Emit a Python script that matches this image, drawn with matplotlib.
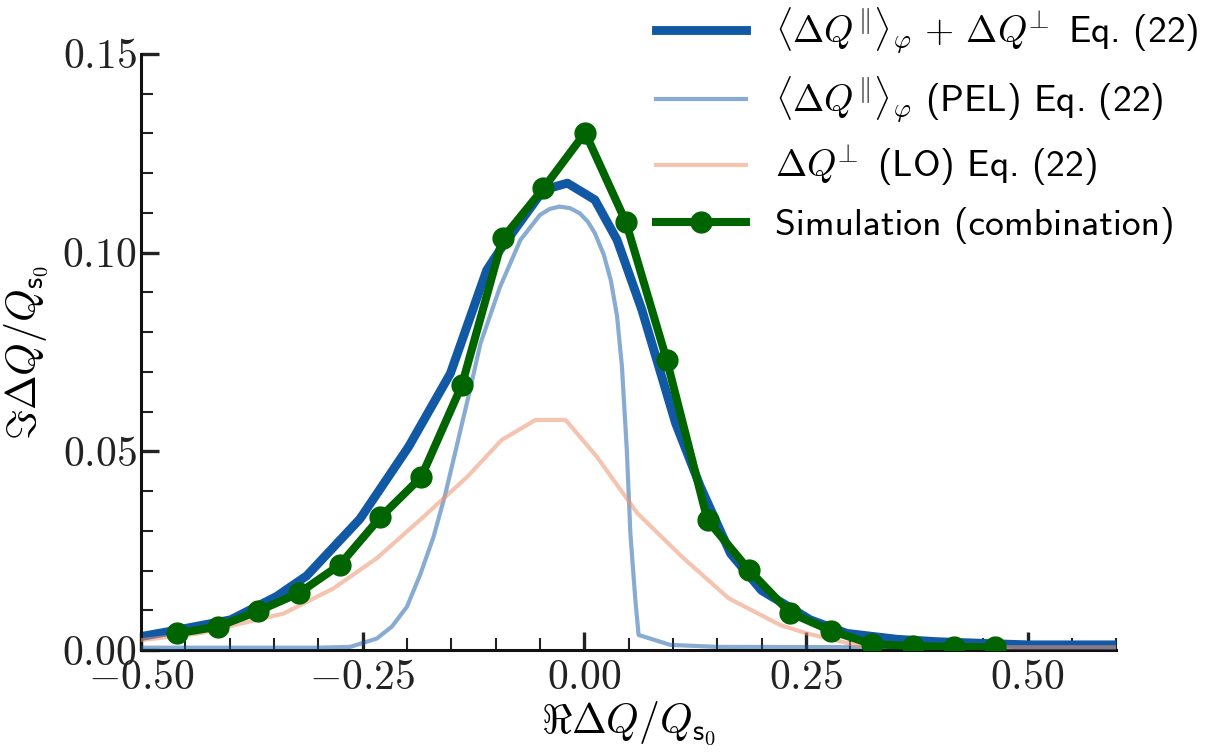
import matplotlib

matplotlib.use("Agg")
import matplotlib.pyplot as plt
from matplotlib.ticker import MultipleLocator, FuncFormatter

# Simulation (combination), green markers
sim_x = [-0.459, -0.413, -0.368, -0.322, -0.276, -0.230, -0.184, -0.138, -0.092, -0.046,
         0.001, 0.047, 0.093, 0.139, 0.186, 0.232, 0.278, 0.324, 0.371, 0.417, 0.463]
sim_y = [0.0042, 0.0059, 0.0098, 0.0143, 0.0214, 0.0334, 0.0435, 0.0667, 0.1036, 0.1162,
         0.1302, 0.1077, 0.0730, 0.0327, 0.0201, 0.0094, 0.0049, 0.0015, 0.0010, 0.0008, 0.0007]

# <dQ_par>_phi + dQ_perp, Eq. (22)
tot_x = [-0.50, -0.46, -0.399, -0.347, -0.313, -0.253, -0.198, -0.151, -0.110, -0.095,
         -0.046, -0.019, 0.012, 0.037, 0.065, 0.103, 0.131, 0.165, 0.200, 0.255,
         0.296, 0.353, 0.398, 0.447, 0.50, 0.60]
tot_y = [0.0034, 0.0050, 0.0076, 0.0135, 0.0187, 0.0330, 0.0512, 0.0696, 0.0956, 0.1007,
         0.1158, 0.1175, 0.1133, 0.1032, 0.0856, 0.0571, 0.0411, 0.0243, 0.0150, 0.0076,
         0.0042, 0.0027, 0.0021, 0.0017, 0.0013, 0.0013]

# <dQ_par>_phi (PEL)
pel_x = [-0.50, -0.30, -0.264, -0.234, -0.217, -0.200, -0.185, -0.170, -0.157, -0.144,
         -0.129, -0.117, -0.095, -0.072, -0.050, -0.039, -0.028, -0.016, -0.005, 0.004,
         0.012, 0.022, 0.030, 0.037, 0.0425, 0.048, 0.052, 0.0576, 0.0613, 0.097, 0.15, 0.60]
pel_y = [0.0006, 0.0006, 0.0008, 0.0029, 0.0059, 0.0109, 0.0190, 0.0285, 0.0390, 0.0512,
         0.0654, 0.0772, 0.0914, 0.1032, 0.1095, 0.1110, 0.1116, 0.1112, 0.1099, 0.1078,
         0.1049, 0.0995, 0.0930, 0.0840, 0.0713, 0.0503, 0.0294, 0.0126, 0.0038, 0.0013,
         0.0008, 0.0006]

# dQ_perp (LO)
lo_x = [-0.50, -0.434, -0.339, -0.283, -0.234, -0.181, -0.132, -0.093, -0.055, -0.021,
        0.014, 0.060, 0.112, 0.163, 0.221, 0.251, 0.311, 0.40, 0.60]
lo_y = [0.0025, 0.0042, 0.0092, 0.0155, 0.0231, 0.0336, 0.0436, 0.0529, 0.0579, 0.0579,
        0.0487, 0.0344, 0.0231, 0.0130, 0.0063, 0.0042, 0.0010, 0.0007, 0.0007]

labels = [
    r"$\langle\Delta Q^{\Vert}\rangle_{\varphi}\,+\,\Delta Q^{\!\!\bot}$ Eq. (22)",
    r"$\langle\Delta Q^{\Vert}\rangle_{\varphi}$ (PEL) Eq. (22)",
    r"$\Delta Q^{\!\!\bot}$ (LO) Eq. (22)",
    "Simulation (combination)",
]

plt.rcParams.update(
    {
        "mathtext.fontset": "cm",
        "font.family": ["cmss10", "DejaVu Sans"],
        "axes.edgecolor": "#111111",
        "axes.linewidth": 2.2,
        "xtick.color": "#222222",
        "ytick.color": "#222222",
    }
)

fig = plt.figure(figsize=(12.1, 7.55), dpi=100)
ax = fig.add_axes([0.1165, 0.139, 0.806, 0.7895])

BLUE = "#1259a5"
ax.plot(tot_x, tot_y, color=BLUE, lw=6.4, label=labels[0], zorder=2)
ax.plot(pel_x, pel_y, color=BLUE, alpha=0.5, lw=3.0, label=labels[1], zorder=3)
ax.plot(lo_x, lo_y, color="#ee9470", alpha=0.55, lw=3.0, label=labels[2], zorder=3)
ax.plot(sim_x, sim_y, color="#006400", lw=5.8, marker="o", ms=15, label=labels[3], zorder=4)

ax.set_xlim(-0.5, 0.6)
ax.set_ylim(0.0, 0.15)
ax.xaxis.set_major_locator(MultipleLocator(0.25))
ax.xaxis.set_minor_locator(MultipleLocator(0.05))
ax.yaxis.set_major_locator(MultipleLocator(0.05))
ax.yaxis.set_minor_locator(MultipleLocator(0.01))
fmt = FuncFormatter(lambda v, p: f"${v:.2f}$")
ax.xaxis.set_major_formatter(fmt)
ax.yaxis.set_major_formatter(fmt)

ax.spines["top"].set_visible(False)
ax.spines["right"].set_visible(False)
ax.tick_params(which="major", direction="in", length=13, width=2.4, labelsize=30)
ax.tick_params(which="minor", direction="in", length=8.5, width=1.5)
ax.tick_params(axis="x", which="major", pad=7)
ax.tick_params(axis="y", which="major", pad=3)

ax.set_xlabel(r"$\Re\Delta Q/Q_{\mathsf{s}_0}$", fontsize=30, labelpad=2)
ax.set_ylabel(r"$\Im\Delta Q/Q_{\mathsf{s}_0}$", fontsize=30, labelpad=8)

fig.legend(
    loc="upper right",
    bbox_to_anchor=(1.006, 1.018),
    frameon=False,
    fontsize=27,
    handlelength=2.4,
    handletextpad=0.78,
    labelspacing=0.49,
    borderaxespad=0.1,
)

fig.savefig("out.png", dpi=100)
